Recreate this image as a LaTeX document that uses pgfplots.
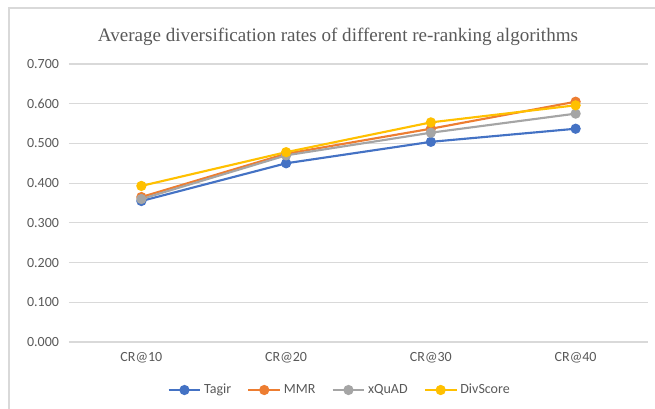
\documentclass[border=0pt]{standalone}
\usepackage{pgfplots}
\pgfplotsset{compat=1.18}
\usepackage{fontspec}
\setmainfont{Carlito}
\newfontfamily\titlefont{Liberation Serif}
\definecolor{txt}{RGB}{89,89,89}
\definecolor{gridc}{RGB}{217,217,217}
\definecolor{frame}{RGB}{217,217,217}
\definecolor{cA}{HTML}{4472C4}
\definecolor{cB}{HTML}{ED7D31}
\definecolor{cC}{HTML}{A5A5A5}
\definecolor{cD}{HTML}{FFC000}
\begin{document}
\begin{tikzpicture}[x=0.75pt,y=0.75pt]
\path[use as bounding box] (-69,-67) rectangle (586,342);
\begin{axis}[
  at={(0,0)}, anchor=south west,
  scale only axis, width=434.25pt, height=208.5pt,
  xmin=-0.5, xmax=3.5, ymin=0, ymax=0.7,
  xtick={0,1,2,3}, xticklabels={CR@10,CR@20,CR@30,CR@40},
  ytick={0,0.1,...,0.7},
  axis line style={draw=none},
  ymajorgrids, grid style={gridc, line width=0.9pt},
  major tick length=0pt,
  /pgf/number format/fixed, /pgf/number format/fixed zerofill,
  /pgf/number format/precision=3, /pgf/number format/assume math mode=true,
  ticklabel style={font=\fontsize{10.5}{12}\selectfont, text=txt},
  xticklabel style={yshift=-4pt},
  yticklabel style={xshift=-4pt},
  every axis plot/.append style={line width=1.6pt, mark=*, mark size=3pt},
  legend columns=4,
  legend style={at={(0.468,-0.1727)}, anchor=center, draw=none, fill=none,
    font=\fontsize{10.5}{12}\selectfont, text=txt,
    /tikz/every even column/.append style={column sep=10pt}},
  legend image code/.code={\draw[mark repeat=2,mark phase=2] plot coordinates {(0cm,0cm)(0.42cm,0cm)(0.84cm,0cm)};},
  clip=false,
]
\addplot[cA, mark options={fill=cA}] coordinates {(0,0.355)(1,0.450)(2,0.504)(3,0.537)};
\addplot[cB, mark options={fill=cB}] coordinates {(0,0.365)(1,0.474)(2,0.537)(3,0.605)};
\addplot[cC, mark options={fill=cC}] coordinates {(0,0.360)(1,0.470)(2,0.527)(3,0.575)};
\addplot[cD, mark options={fill=cD}] coordinates {(0,0.393)(1,0.478)(2,0.553)(3,0.596)};
\legend{Tagir,MMR,xQuAD,DivScore}
\end{axis}
\draw[frame, line width=0.9pt] (-60,-67) -- (-60,334) -- (586,334);
\node[font=\titlefont\fontsize{14.3}{17}\selectfont, text=txt] at (269,305) {Average diversification rates of different re-ranking algorithms};
\end{tikzpicture}
\end{document}
